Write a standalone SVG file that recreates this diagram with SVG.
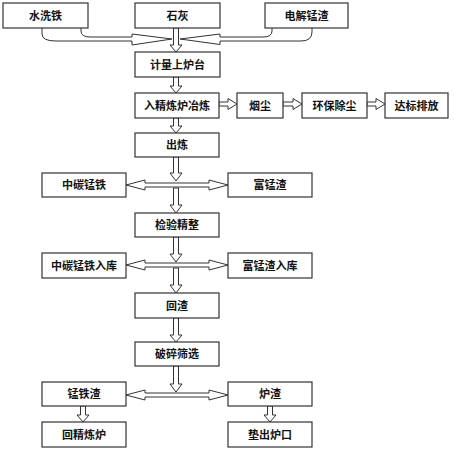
<svg xmlns="http://www.w3.org/2000/svg" width="454" height="450" viewBox="0 0 454 450">
<style>
.box rect{fill:#fff;stroke:#333;stroke-width:1.2}
.box text{font-family:"Noto Sans CJK SC","Noto Sans",sans-serif;font-size:11px;font-weight:bold;fill:#111;text-anchor:middle}
#connectors *{fill:#fff;stroke:#333;stroke-width:1}
</style>
<rect width="454" height="450" fill="#fff"/>
<g id="connectors">
<path d="M42,28 V34 Q42,41 56,41 H132 V45 L172,39 L132,34 V37 H90 Q81,37 81,31 V28"/>
<path d="M272,28 V31 Q272,37 263,37 H220 V34 L180,39 L220,44.5 V41 H301 Q312,41 312,32 V28"/>
<polygon points="173.5,28 173.5,45 170,45 176,52 182,45 178.5,45 178.5,28"/>
<polygon points="173.5,77 173.5,86 170,86 176,93 182,86 178.5,86 178.5,77"/>
<polygon points="173.5,118 173.5,126 170,126 176,133 182,126 178.5,126 178.5,118"/>
<polygon points="173.5,157 173.5,173 170,173 176,181 182,173 178.5,173 178.5,157"/>
<polygon points="173.5,188 173.5,205 170,205 176,213 182,205 178.5,205 178.5,188"/>
<polygon points="173.5,237 173.5,254 170,254 176,262 182,254 178.5,254 178.5,237"/>
<polygon points="173.5,268 173.5,285 170,285 176,293 182,285 178.5,285 178.5,268"/>
<polygon points="173.5,318 173.5,335 170,335 176,342 182,335 178.5,335 178.5,318"/>
<polygon points="173.5,366 173.5,384 170,384 176,392 182,384 178.5,384 178.5,366"/>
<polygon points="80.5,406 80.5,415 77,415 83,422 89,415 85.5,415 85.5,406"/>
<polygon points="267.5,406 267.5,415 264,415 270,422 276,415 272.5,415 272.5,406"/>
<polygon points="219,102 228,102 228,98.5 237,104 228,109.5 228,106 219,106"/>
<polygon points="283,102 293,102 293,98.5 302,104 293,109.5 293,106 283,106"/>
<polygon points="367,102 376,102 376,98.5 385,104 376,109.5 376,106 367,106"/>
<polygon points="126,185 145,180 145,183 209,183 209,180 228,185 209,190 209,187 145,187 145,190"/>
<polygon points="126,265 145,260 145,263 209,263 209,260 228,265 209,270 209,267 145,267 145,270"/>
<polygon points="126,395 145,390 145,393 209,393 209,390 228,395 209,400 209,397 145,397 145,400"/>
</g>
<g id="n1" class="box"><rect x="3" y="3" width="85" height="25"/><text x="45.5" y="19.5">水洗铁</text></g>
<g id="n2" class="box"><rect x="135" y="3" width="85" height="25"/><text x="177.5" y="19.5">石灰</text></g>
<g id="n3" class="box"><rect x="265" y="3" width="83" height="25"/><text x="306.5" y="19.5">电解锰渣</text></g>
<g id="n4" class="box"><rect x="135" y="52" width="85" height="25"/><text x="177.5" y="68.5">计量上炉台</text></g>
<g id="n5" class="box"><rect x="135" y="93" width="84" height="25"/><text x="177" y="109.5">入精炼炉冶炼</text></g>
<g id="n6" class="box"><rect x="237" y="93" width="46" height="25"/><text x="260" y="109.5">烟尘</text></g>
<g id="n7" class="box"><rect x="302" y="93" width="65" height="25"/><text x="334.5" y="109.5">环保除尘</text></g>
<g id="n8" class="box"><rect x="385" y="93" width="63" height="25"/><text x="416.5" y="109.5">达标排放</text></g>
<g id="n9" class="box"><rect x="135" y="133" width="84" height="24"/><text x="177" y="149">出炼</text></g>
<g id="n10" class="box"><rect x="42" y="173" width="84" height="24"/><text x="84" y="189">中碳锰铁</text></g>
<g id="n11" class="box"><rect x="228" y="173" width="84" height="24"/><text x="270" y="189">富锰渣</text></g>
<g id="n12" class="box"><rect x="135" y="213" width="84" height="24"/><text x="177" y="229">检验精整</text></g>
<g id="n13" class="box"><rect x="42" y="253" width="84" height="25"/><text x="84" y="269.5">中碳锰铁入库</text></g>
<g id="n14" class="box"><rect x="228" y="253" width="84" height="25"/><text x="270" y="269.5">富锰渣入库</text></g>
<g id="n15" class="box"><rect x="135" y="293" width="84" height="25"/><text x="177" y="309.5">回渣</text></g>
<g id="n16" class="box"><rect x="135" y="342" width="84" height="24"/><text x="177" y="358">破碎筛选</text></g>
<g id="n17" class="box"><rect x="42" y="382" width="84" height="24"/><text x="84" y="398">锰铁渣</text></g>
<g id="n18" class="box"><rect x="228" y="382" width="84" height="24"/><text x="270" y="398">炉渣</text></g>
<g id="n19" class="box"><rect x="42" y="422" width="84" height="25"/><text x="84" y="438.5">回精炼炉</text></g>
<g id="n20" class="box"><rect x="228" y="422" width="84" height="25"/><text x="270" y="438.5">垫出炉口</text></g>
</svg>
